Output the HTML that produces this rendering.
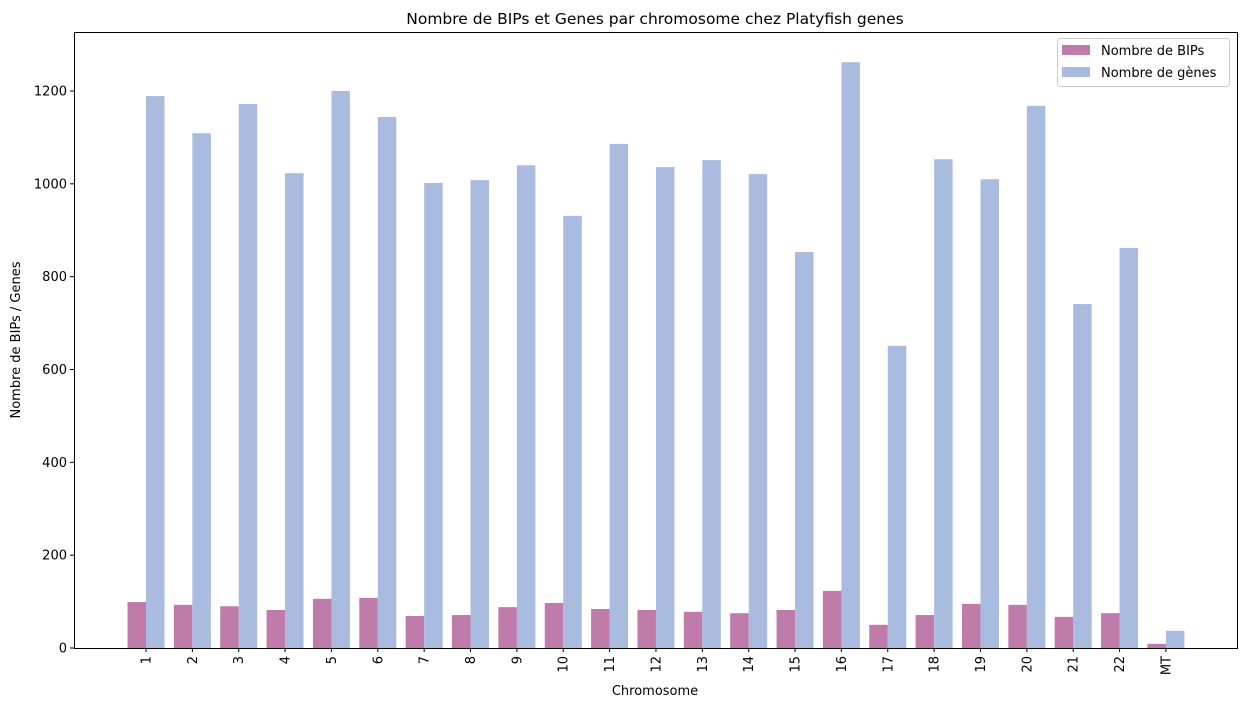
<!DOCTYPE html>
<html><head><meta charset="utf-8"><style>
body{margin:0;background:#fff;font-family:"DejaVu Sans","Liberation Sans",sans-serif;}
svg text{font-family:"DejaVu Sans","Liberation Sans",sans-serif;}
</style></head><body>
<svg id="chart" width="1246" height="708" xmlns="http://www.w3.org/2000/svg">
<rect x="0" y="0" width="1246" height="708" fill="#fff"/>
<g id="plot"></g>
</svg>
<script>
const categories=["1","2","3","4","5","6","7","8","9","10","11","12","13","14","15","16","17","18","19","20","21","22","MT"];
const bips=[99,93,90,82,106,108,69,71,88,97,84,82,78,75,82,123,50,71,95,93,67,75,9];
const genes=[1189,1109,1172,1023,1200,1144,1002,1008,1040,931,1086,1036,1051,1021,853,1262,651,1053,1010,1168,741,862,37];
const yTicks=[0,200,400,600,800,1000,1200];
const NS="http://www.w3.org/2000/svg";
const L=74,R=1237,T=32,B=648;
const y=v=>B-v*(557/1200);
const x=i=>146+i*46.36;
const bw=18.5;
const g=document.getElementById('plot');
function mk(tag,attrs,parent){const e=document.createElementNS(NS,tag);for(const k in attrs)e.setAttribute(k,attrs[k]);(parent||g).appendChild(e);return e;}
categories.forEach((c,i)=>{
  const b=mk('rect',{x:x(i)-bw,y:y(bips[i]),width:bw,height:B-y(bips[i]),fill:'#bf7ba9'});
  
  
  const gg=mk('rect',{x:x(i),y:y(genes[i]),width:bw,height:B-y(genes[i]),fill:'#aabbe0'});
  
  
  mk('line',{x1:x(i),x2:x(i),y1:B,y2:B+4,stroke:'#000','stroke-width':1});
  const t=mk('text',{x:0,y:0,'font-size':13,'text-anchor':'end',transform:`translate(${x(i)+4.5},${B+8}) rotate(-90)`});
  t.textContent=c;
  
  
});
yTicks.forEach(v=>{
  mk('line',{x1:L-4,x2:L,y1:y(v),y2:y(v),stroke:'#000','stroke-width':1});
  const t=mk('text',{x:L-7,y:y(v)+4.5,'font-size':13,'text-anchor':'end'});
  t.textContent=v;
  
  
});
const fr=mk('rect',{x:L+0.5,y:T+0.5,width:R-L,height:B-T,fill:'none',stroke:'#000','stroke-width':1});


let t=mk('text',{x:655,y:24,'font-size':15.5,'text-anchor':'middle'});t.textContent='Nombre de BIPs et Genes par chromosome chez Platyfish genes';


t=mk('text',{x:655,y:695,'font-size':13,'text-anchor':'middle'});t.textContent='Chromosome';


t=mk('text',{x:0,y:0,'font-size':13,'text-anchor':'middle',transform:'translate(20,340) rotate(-90)'});t.textContent='Nombre de BIPs / Genes';


const lg=mk('g',{});


mk('rect',{x:1057.5,y:38.5,width:172,height:48,rx:3,fill:'#fff',stroke:'#ccc'},lg);
mk('rect',{x:1062,y:45,width:28,height:10,fill:'#bf7ba9'},lg);
mk('rect',{x:1062,y:67,width:28,height:10,fill:'#aabbe0'},lg);
t=mk('text',{x:1101,y:55,'font-size':13},lg);t.textContent='Nombre de BIPs';


t=mk('text',{x:1101,y:77,'font-size':13},lg);t.textContent='Nombre de gènes';


</script>
</body></html>
